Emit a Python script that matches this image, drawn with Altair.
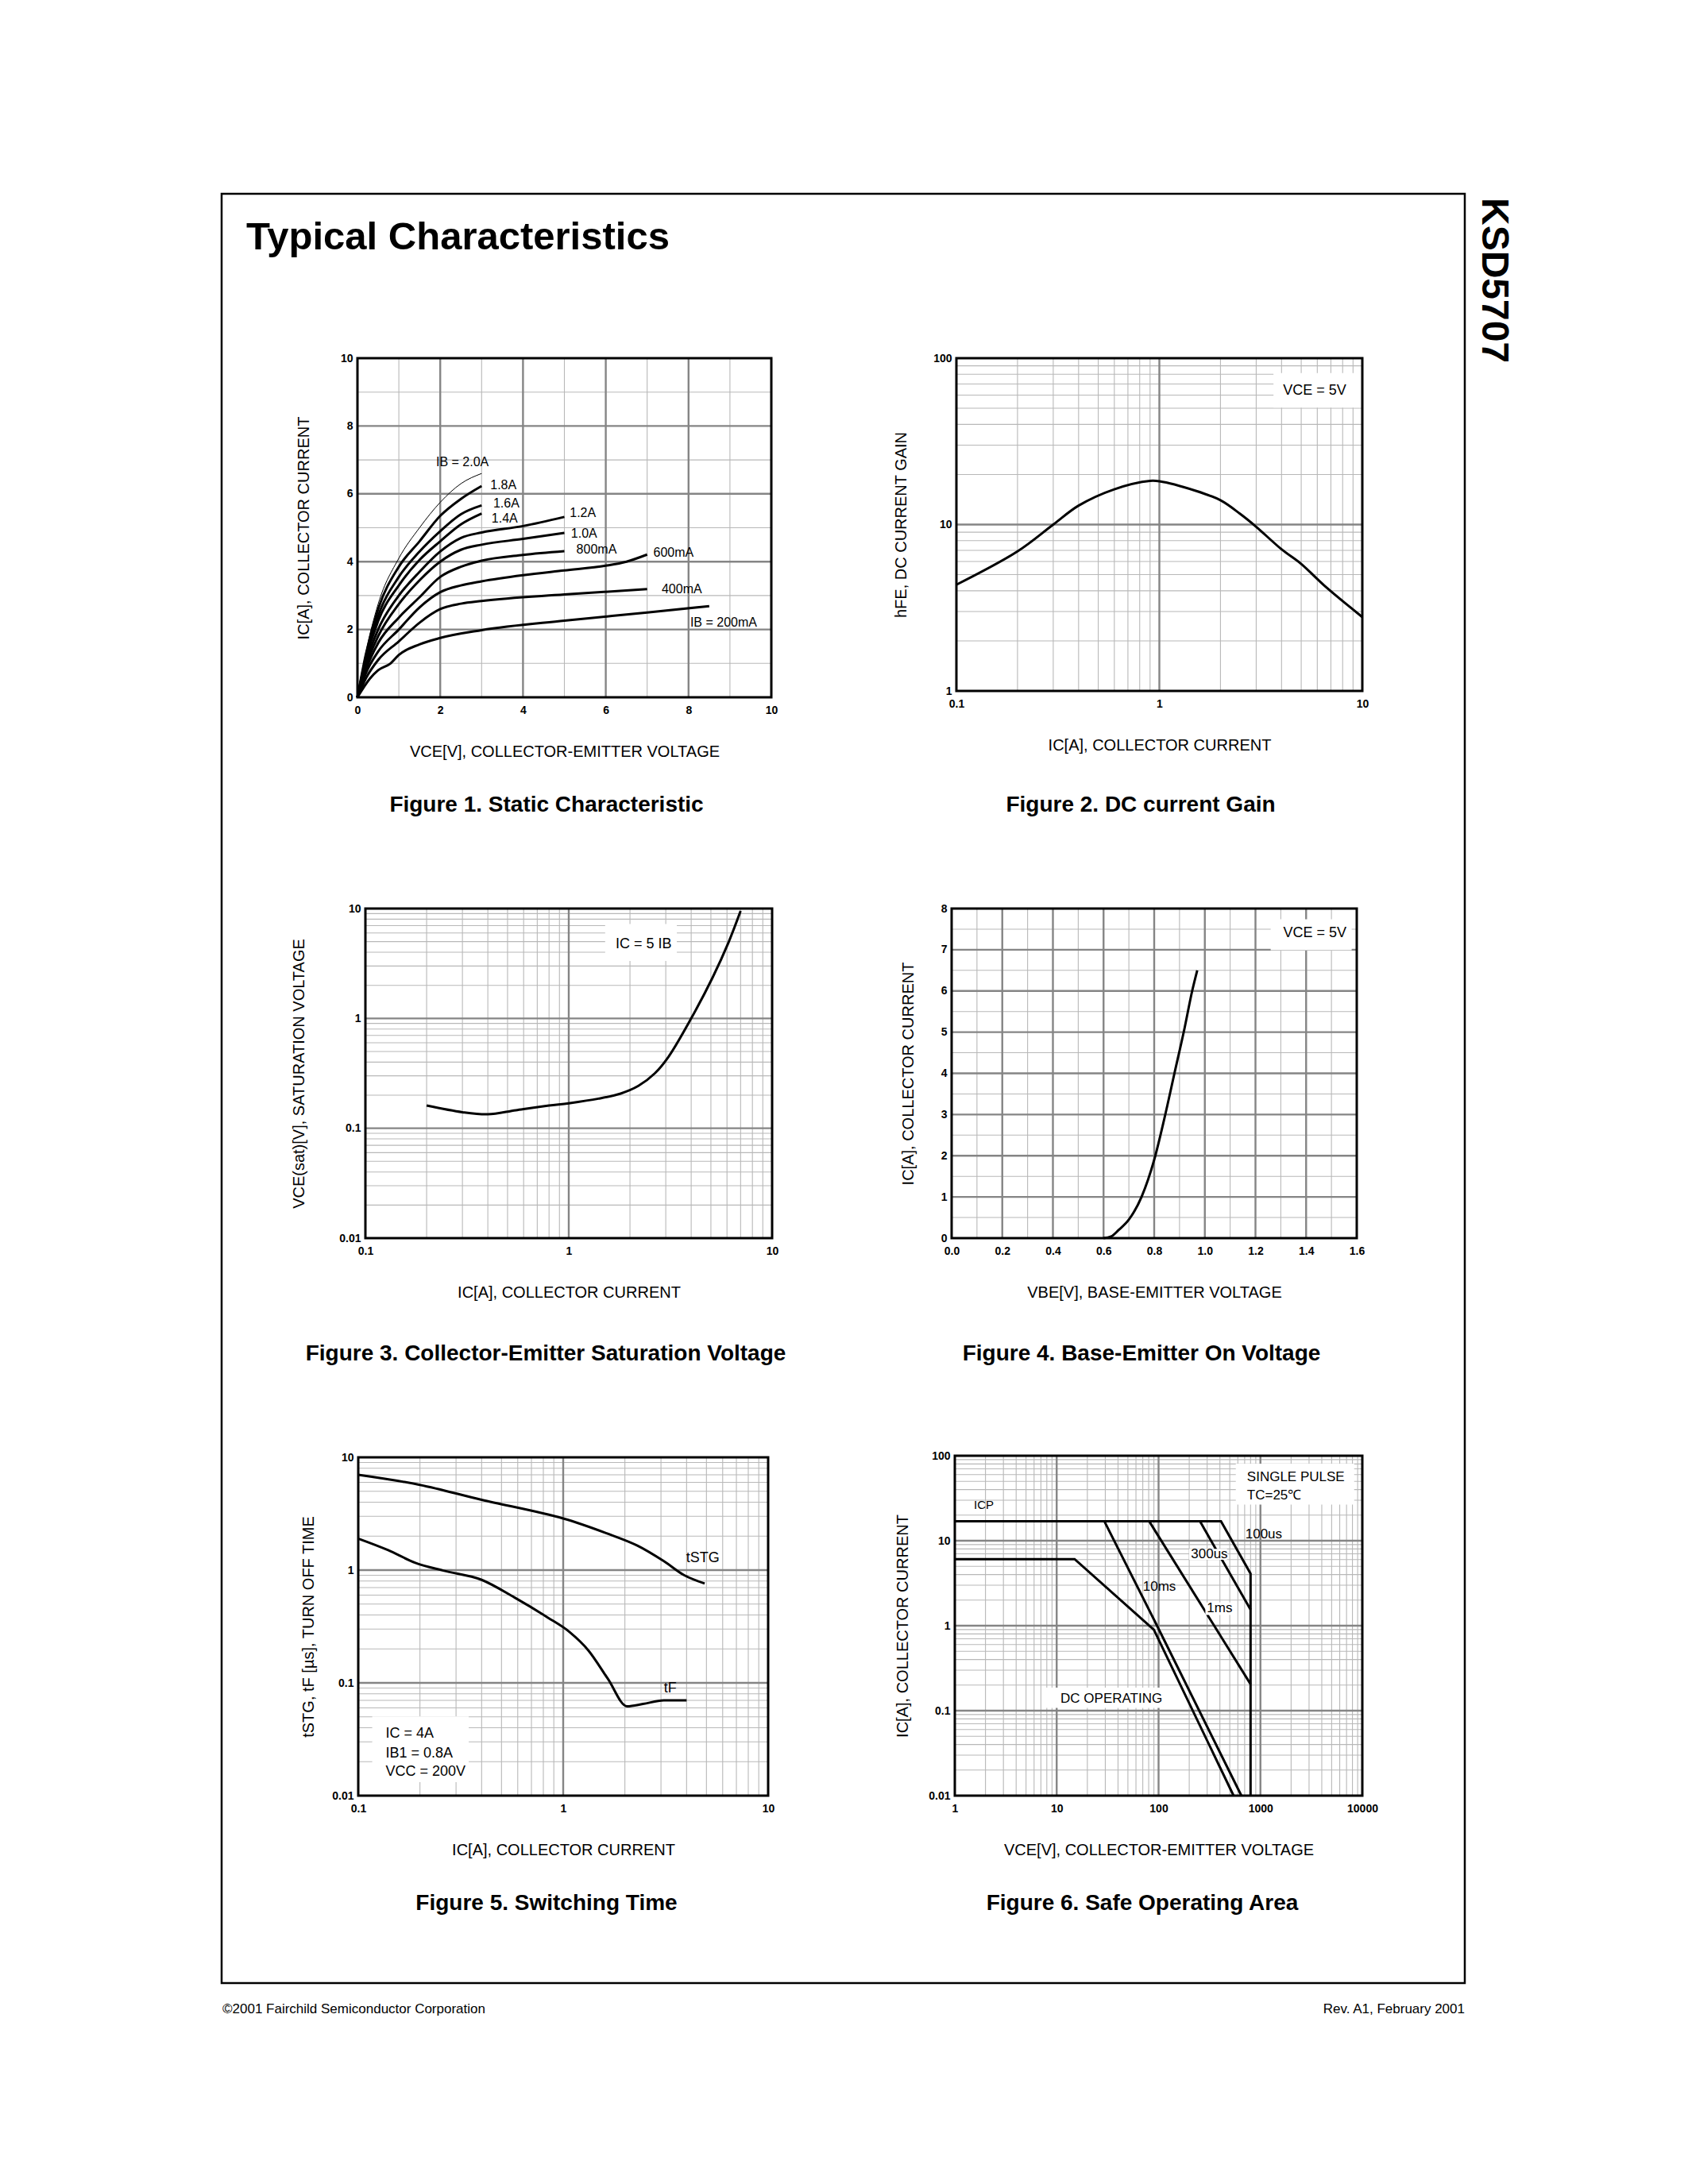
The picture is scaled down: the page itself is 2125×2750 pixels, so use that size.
import altair as alt
import pandas as pd

FONT = "Liberation Sans"
PAGE_W, PAGE_H = 1565, 2253

# ---------------- Figure 1: Static characteristic ----------------
f1_names = ["2.0A", "1.8A", "1.6A", "1.4A", "1.2A", "1.0A", "800mA", "600mA", "400mA", "200mA"]
f1_vce_2000 = [0, 0.2, 0.5, 1.0, 1.5, 2.0, 2.5, 3.0]
f1_ic_2000 = [0, 1.3, 2.75, 4.1, 5.0, 5.75, 6.3, 6.6]
f1_vce_1800 = [0, 0.2, 0.5, 1.0, 1.5, 2.0, 2.5, 3.0]
f1_ic_1800 = [0, 1.25, 2.6, 3.85, 4.6, 5.35, 5.85, 6.23]
f1_vce_1600 = [0, 0.2, 0.5, 1.0, 1.5, 2.0, 2.5, 3.0]
f1_ic_1600 = [0, 1.15, 2.4, 3.55, 4.3, 4.9, 5.4, 5.66]
f1_vce_1400 = [0, 0.2, 0.5, 1.0, 1.5, 2.0, 2.5, 3.0]
f1_ic_1400 = [0, 1.1, 2.25, 3.3, 4.05, 4.6, 5.1, 5.42]
f1_vce_1200 = [0, 0.2, 0.5, 1.0, 1.5, 2.0, 2.5, 3.0, 4.0, 5.0]
f1_ic_1200 = [0, 1.0, 2.0, 3.0, 3.7, 4.3, 4.7, 4.86, 5.05, 5.32]
f1_vce_1000 = [0, 0.2, 0.5, 1.0, 1.5, 2.0, 2.5, 3.0, 4.0, 5.0]
f1_ic_1000 = [0, 0.9, 1.8, 2.75, 3.45, 4.0, 4.35, 4.5, 4.67, 4.85]
f1_vce_800 = [0, 0.2, 0.5, 1.0, 1.5, 2.0, 2.5, 3.0, 4.0, 5.0]
f1_ic_800 = [0, 0.8, 1.6, 2.35, 2.95, 3.55, 3.85, 4.03, 4.2, 4.31]
f1_vce_600 = [0, 0.2, 0.5, 1.0, 1.5, 2.0, 2.5, 3.0, 4.0, 5.0, 6.0, 6.5, 7.0]
f1_ic_600 = [0, 0.7, 1.35, 2.0, 2.65, 3.1, 3.3, 3.42, 3.6, 3.74, 3.88, 4.0, 4.21]
f1_vce_400 = [0, 0.2, 0.5, 1.0, 1.5, 2.0, 2.5, 3.0, 5.0, 7.0]
f1_ic_400 = [0, 0.55, 1.1, 1.65, 2.2, 2.6, 2.76, 2.84, 3.03, 3.19]
f1_vce_200 = [0, 0.3, 0.5, 0.8, 1.0, 1.5, 2.0, 3.0, 5.0, 7.0, 8.5]
f1_ic_200 = [0, 0.55, 0.8, 1.0, 1.25, 1.56, 1.75, 1.98, 2.26, 2.5, 2.69]
f1_label_text = ["IB = 2.0A", "1.8A", "1.6A", "1.4A", "1.2A", "1.0A", "800mA", "600mA", "400mA", "IB = 200mA"]
f1_label_v = [1.9, 3.21, 3.28, 3.24, 5.13, 5.16, 5.29, 7.15, 7.35, 8.04]
f1_label_i = [6.94, 6.25, 5.71, 5.27, 5.43, 4.82, 4.35, 4.27, 3.19, 2.2]
f1_ticks = [0, 2, 4, 6, 8, 10]
f1_major = [2, 4, 6, 8]
f1_minor = [1, 3, 5, 7, 9]

# ---------------- Figure 2: DC current gain ----------------
f2_ic = [0.1, 0.2, 0.3, 0.4, 0.6, 0.9, 1.0, 1.5, 2.0, 2.5, 3.0, 4.0, 5.0, 6.5, 10]
f2_hfe = [4.35, 6.9, 10.0, 13.0, 16.3, 18.3, 18.2, 16.0, 14.0, 11.6, 9.7, 7.1, 5.8, 4.3, 2.78]
f2_xticks = [0.1, 1, 10]
f2_yticks = [1, 10, 100]

# ---------------- Figure 3: Saturation voltage ----------------
f3_ic = [0.2, 0.3, 0.4, 0.55, 0.8, 1.0, 1.4, 1.8, 2.2, 2.65, 3.1, 4.0, 5.1, 6.1, 7.0]
f3_vce = [0.161, 0.14, 0.134, 0.146, 0.161, 0.169, 0.186, 0.207, 0.243, 0.316, 0.45, 1.0, 2.36, 4.9, 9.5]
f3_xticks = [0.1, 1, 10]
f3_yticks = [0.01, 0.1, 1, 10]

# ---------------- Figure 4: Base-emitter on voltage ----------------
f4_vbe = [0.60, 0.63, 0.66, 0.70, 0.75, 0.80, 0.84, 0.88, 0.92, 0.95, 0.97]
f4_ic = [0.0, 0.04, 0.2, 0.45, 1.0, 1.9, 2.9, 4.0, 5.1, 6.0, 6.5]
f4_xticks = [0.0, 0.2, 0.4, 0.6, 0.8, 1.0, 1.2, 1.4, 1.6]
f4_xminor = [0.1, 0.3, 0.5, 0.7, 0.9, 1.1, 1.3, 1.5]
f4_yticks = [0, 1, 2, 3, 4, 5, 6, 7, 8]
f4_yminor = [0.5, 1.5, 2.5, 3.5, 4.5, 5.5, 6.5, 7.5]

# ---------------- Figure 5: Switching time ----------------
f5_ic_stg = [0.1, 0.2, 0.4, 1.0, 1.7, 2.3, 3.1, 3.9, 4.9]
f5_t_stg = [7.0, 5.7, 4.2, 2.87, 2.06, 1.65, 1.2, 0.9, 0.76]
f5_ic_f = [0.1, 0.14, 0.19, 0.26, 0.4, 0.58, 0.84, 1.07, 1.33, 1.65, 2.05, 2.45, 3.1, 4.0]
f5_t_f = [1.9, 1.5, 1.16, 0.99, 0.82, 0.57, 0.38, 0.284, 0.193, 0.109, 0.062, 0.065, 0.070, 0.070]
f5_xticks = [0.1, 1, 10]
f5_yticks = [0.01, 0.1, 1, 10]

# ---------------- Figure 6: Safe operating area ----------------
f6_names = ["100us", "300us", "1ms", "10ms", "DC"]
f6_v_100us = [1, 410, 800, 800]
f6_i_100us = [16.9, 16.9, 4.1, 0.01]
f6_v_300us = [255, 800]
f6_i_300us = [16.9, 1.55]
f6_v_1ms = [81, 800]
f6_i_1ms = [16.9, 0.205]
f6_v_10ms = [29.4, 97, 650]
f6_i_10ms = [16.9, 0.99, 0.01]
f6_v_dc = [1, 15, 90, 545]
f6_i_dc = [6.07, 6.07, 0.895, 0.01]
f6_xticks = [1, 10, 100, 1000, 10000]
f6_yticks = [0.01, 0.1, 1, 10, 100]


def log_minor(lo_exp, hi_exp):
    return [k * 10.0 ** e for e in range(lo_exp, hi_exp) for k in range(2, 10)]


def mk_scale(kind, dom, rng):
    if kind == "log":
        return alt.Scale(type="log", domain=dom, range=rng, nice=False)
    return alt.Scale(type="linear", domain=dom, range=rng, nice=False, zero=False)


def curve_df(xs_list, ys_list, names):
    rows = []
    for xs, ys, n in zip(xs_list, ys_list, names):
        for i, (a, b) in enumerate(zip(xs, ys)):
            rows.append({"x": a, "y": b, "s": n, "i": i})
    return pd.DataFrame(rows)


def text_df(xs, ys, ts):
    return pd.DataFrame({"x": xs, "y": ys, "t": ts})


def box_df(xa, xb, ya, yb):
    return pd.DataFrame({"xa": xa, "xb": xb, "ya": ya, "yb": yb})


def build_panel(box, xtype, xdom, ytype, ydom, xmajor, xminor, ymajor, yminor,
                xticks, yticks, xfmt, yfmt, xtitle, ytitle, ytpad,
                curves, texts, boxes=None, label_boxes=None):
    L, T, R, B = box
    xs = mk_scale(xtype, xdom, [L, R])
    ys = mk_scale(ytype, ydom, [B, T])
    layers = []

    def vrules(vals, color, w):
        df = pd.DataFrame({"x": vals, "ya": ydom[0], "yb": ydom[1]})
        return alt.Chart(df).mark_rule(color=color, strokeWidth=w).encode(
            x=alt.X("x:Q", scale=xs, axis=None),
            y=alt.Y("ya:Q", scale=ys, axis=None), y2="yb:Q")

    def hrules(vals, color, w):
        df = pd.DataFrame({"y": vals, "xa": xdom[0], "xb": xdom[1]})
        return alt.Chart(df).mark_rule(color=color, strokeWidth=w).encode(
            y=alt.Y("y:Q", scale=ys, axis=None),
            x=alt.X("xa:Q", scale=xs, axis=None), x2="xb:Q")

    def white(df):
        return alt.Chart(df).mark_rect(color="white").encode(
            x=alt.X("xa:Q", scale=xs, axis=None), x2="xb:Q",
            y=alt.Y("ya:Q", scale=ys, axis=None), y2="yb:Q")

    layers.append(vrules(xminor, "#b8b8b8", 1.1))
    layers.append(hrules(yminor, "#b8b8b8", 1.1))
    layers.append(vrules(xmajor, "#858585", 2.4))
    layers.append(hrules(ymajor, "#858585", 2.4))

    if boxes is not None:
        layers.append(white(boxes))

    for df, w, interp in curves:
        layers.append(alt.Chart(df).mark_line(color="black", strokeWidth=w, interpolate=interp).encode(
            x=alt.X("x:Q", scale=xs, axis=None),
            y=alt.Y("y:Q", scale=ys, axis=None),
            detail="s:N", order="i:Q"))

    if label_boxes is not None:
        layers.append(white(label_boxes))

    fdf = pd.DataFrame({"xa": [xdom[0]], "xb": [xdom[1]], "ya": [ydom[0]], "yb": [ydom[1]]})
    xaxis = alt.Axis(orient="bottom", offset=B - PAGE_H, values=xticks, format=xfmt,
                     grid=False, ticks=False, domain=False, labelFont=FONT,
                     labelFontWeight="bold", labelFontSize=14, labelPadding=9,
                     labelColor="black", labelOverlap=False, labelFlush=False,
                     title=xtitle, titleFont=FONT, titleFontWeight="normal",
                     titleFontSize=20, titleColor="black", titlePadding=35)
    yaxis = alt.Axis(orient="left", offset=-L, values=yticks, format=yfmt,
                     grid=False, ticks=False, domain=False, labelFont=FONT,
                     labelFontWeight="bold", labelFontSize=14, labelPadding=6,
                     labelColor="black", labelOverlap=False, labelFlush=False,
                     title=ytitle, titleFont=FONT, titleFontWeight="normal",
                     titleFontSize=20, titleColor="black", titlePadding=ytpad)
    layers.append(alt.Chart(fdf).mark_rect(filled=False, color="black", strokeWidth=3).encode(
        x=alt.X("xa:Q", scale=xs, axis=xaxis), x2="xb:Q",
        y=alt.Y("ya:Q", scale=ys, axis=yaxis), y2="yb:Q"))

    for df, fs in texts:
        layers.append(alt.Chart(df).mark_text(align="left", baseline="middle", font=FONT,
                                              fontSize=fs, color="black").encode(
            x=alt.X("x:Q", scale=xs, axis=None),
            y=alt.Y("y:Q", scale=ys, axis=None),
            text="t:N"))
    return layers


def ptext(txt, x, y, size, bold=False, align="left", angle=0):
    return alt.Chart(pd.DataFrame({"t": [txt]})).mark_text(
        font=FONT, fontSize=size, fontWeight="bold" if bold else "normal",
        align=align, baseline="alphabetic", angle=angle, color="black").encode(
        x=alt.value(x), y=alt.value(y), text="t:N")


layers = []

# Figure 1
f1_thick = curve_df(
    [f1_vce_1800, f1_vce_1600, f1_vce_1400, f1_vce_1200, f1_vce_1000, f1_vce_800, f1_vce_600, f1_vce_400, f1_vce_200],
    [f1_ic_1800, f1_ic_1600, f1_ic_1400, f1_ic_1200, f1_ic_1000, f1_ic_800, f1_ic_600, f1_ic_400, f1_ic_200],
    f1_names[1:])
f1_thin = curve_df([f1_vce_2000], [f1_ic_2000], f1_names[:1])
layers += build_panel((171, 207, 692, 634), "linear", [0, 10], "linear", [0, 10],
                      f1_major, f1_minor, f1_major, f1_minor, f1_ticks, f1_ticks, "d", "d",
                      "VCE[V], COLLECTOR-EMITTER VOLTAGE", "IC[A], COLLECTOR CURRENT", 36,
                      [(f1_thin, 1, "monotone"), (f1_thick, 3, "monotone")],
                      [(text_df(f1_label_v, f1_label_i, f1_label_text), 16)])

# Figure 2
layers += build_panel((925, 207, 1436, 626), "log", [0.1, 10], "log", [1, 100],
                      [1], log_minor(-1, 1), [10], log_minor(0, 2), f2_xticks, f2_yticks, "~g", "~g",
                      "IC[A], COLLECTOR CURRENT", "hFE, DC CURRENT GAIN", 30,
                      [(curve_df([f2_ic], [f2_hfe], ["hfe"]), 3, "catmull-rom")],
                      [(text_df([4.07], [64], ["VCE = 5V"]), 18)],
                      box_df([3.65], [10], [50.4], [81.4]))

# Figure 3
layers += build_panel((181, 900, 693, 1315), "log", [0.1, 10], "log", [0.01, 10],
                      [1], log_minor(-1, 1), [0.1, 1], log_minor(-2, 1), f3_xticks, f3_yticks, "~g", "~g",
                      "IC[A], COLLECTOR CURRENT", "VCE(sat)[V], SATURATION VOLTAGE", 40,
                      [(curve_df([f3_ic], [f3_vce], ["vcesat"]), 3, "catmull-rom")],
                      [(text_df([1.7], [4.75], ["IC = 5 IB"]), 18)],
                      box_df([1.51], [3.4], [3.33], [7.24]))

# Figure 4
layers += build_panel((919, 900, 1429, 1315), "linear", [0, 1.6], "linear", [0, 8],
                      f4_xticks[1:-1], f4_xminor, f4_yticks[1:-1], f4_yminor, f4_xticks, f4_yticks, ".1f", "d",
                      "VBE[V], BASE-EMITTER VOLTAGE", "IC[A], COLLECTOR CURRENT", 31,
                      [(curve_df([f4_vbe], [f4_ic], ["vbe"]), 3, "monotone")],
                      [(text_df([1.31], [7.4], ["VCE = 5V"]), 18)],
                      box_df([1.26], [1.58], [6.99], [7.74]))

# Figure 5
layers += build_panel((172, 1591, 688, 2017), "log", [0.1, 10], "log", [0.01, 10],
                      [1], log_minor(-1, 1), [0.1, 1], log_minor(-2, 1), f5_xticks, f5_yticks, "~g", "~g",
                      "IC[A], COLLECTOR CURRENT", "tSTG, tF [\u00b5s], TURN OFF TIME", 19,
                      [(curve_df([f5_ic_stg], [f5_t_stg], ["stg"]), 3, "catmull-rom"),
                       (curve_df([f5_ic_f], [f5_t_f], ["f"]), 3, "monotone")],
                      [(text_df([3.98, 3.1], [1.27, 0.0898], ["tSTG", "tF"]), 18),
                       (text_df([0.136, 0.136, 0.136], [0.0355, 0.0237, 0.0162],
                                ["IC = 4A", "IB1 = 0.8A", "VCC = 200V"]), 18)],
                      box_df([0.117], [0.346], [0.0132], [0.0504]))

# Figure 6
f6_lines = curve_df([f6_v_100us, f6_v_300us, f6_v_1ms, f6_v_10ms, f6_v_dc],
                    [f6_i_100us, f6_i_300us, f6_i_1ms, f6_i_10ms, f6_i_dc], f6_names)
layers += build_panel((923, 1589, 1436, 2017), "log", [1, 10000], "log", [0.01, 100],
                      [10, 100, 1000], log_minor(0, 4), [0.1, 1, 10], log_minor(-2, 2), f6_xticks, f6_yticks, "~g", "~g",
                      "VCE[V], COLLECTOR-EMITTER VOLTAGE", "IC[A], COLLECTOR CURRENT", 22,
                      [(f6_lines, 3, "linear")],
                      [(text_df([1.54], [26.6], ["ICP"]), 15),
                       (text_df([711, 208, 70.2, 298, 10.9, 738, 738], [11.8, 6.95, 2.88, 1.59, 0.139, 56, 34.4],
                                ["100us", "300us", "10ms", "1ms", "DC OPERATING", "SINGLE PULSE", "TC=25\u2103"]), 17)],
                      box_df([573, 7.7], [8318, 104], [26.6, 0.108], [80.7, 0.187]),
                      box_df([200, 288], [470, 560], [5.97, 1.34], [8.0, 1.88]))

# Page texts
layers.append(ptext("Typical Characteristics", 31, 70, 49, bold=True))
layers.append(ptext("KSD5707", 1587, 5, 48, bold=True, angle=90))
layers.append(ptext("Figure 1. Static Characteristic", 409, 778, 28, bold=True, align="center"))
layers.append(ptext("Figure 2. DC current Gain", 1157, 778, 28, bold=True, align="center"))
layers.append(ptext("Figure 3. Collector-Emitter Saturation Voltage", 408, 1469, 28, bold=True, align="center"))
layers.append(ptext("Figure 4. Base-Emitter On Voltage", 1158, 1469, 28, bold=True, align="center"))
layers.append(ptext("Figure 5. Switching Time", 409, 2161, 28, bold=True, align="center"))
layers.append(ptext("Figure 6. Safe Operating Area", 1159, 2161, 28, bold=True, align="center"))
layers.append(ptext("\u00a92001 Fairchild Semiconductor Corporation", 1, 2291, 17))
layers.append(ptext("Rev. A1, February 2001", PAGE_W, 2291, 17, align="right"))

chart = alt.layer(*layers).resolve_scale(x="independent", y="independent").resolve_axis(
    x="independent", y="independent").properties(
    width=PAGE_W, height=PAGE_H,
    padding={"left": 271, "top": 236, "right": 10, "bottom": 10},
    background="white",
).configure_view(stroke="black", strokeWidth=2.5)

chart.save("out.html", embed_options={"renderer": "svg", "actions": False})
